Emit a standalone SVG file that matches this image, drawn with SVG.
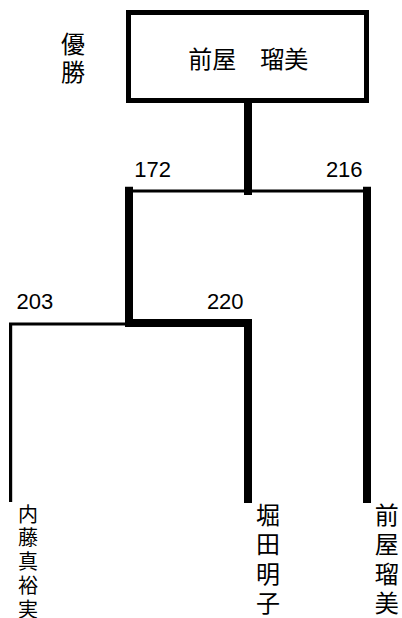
<svg xmlns="http://www.w3.org/2000/svg" width="402" height="618" viewBox="0 0 402 618">
<style>
.bg{fill:#fff}
.box{fill:#fff;stroke:#000;stroke-width:5}
.thick{fill:none;stroke:#000;stroke-width:8;stroke-linejoin:miter;stroke-linecap:butt}
.thin{fill:none;stroke:#000;stroke-width:3.2;stroke-linejoin:miter;stroke-linecap:butt}
.jp{font-family:"Noto Sans CJK JP","Noto Sans CJK SC",sans-serif;fill:#000}
.num{font-family:"Liberation Sans",Arial,sans-serif;font-size:22px;fill:#000}
</style>
<rect class="bg" x="0" y="0" width="402" height="618"/>
<g id="connectors">
  <path class="thick" d="M248 103 V195"/>
  <path class="thin" d="M125 191 H371"/>
  <path class="thick" d="M129 186.7 V323 H248 V503"/>
  <path class="thick" d="M367 186.7 V503"/>
  <path class="thin" d="M125 324 H10.6 V502"/>
</g>
<g id="champion-label">
  <text class="jp" font-size="24" text-anchor="middle"><tspan x="73" y="52.5">優</tspan><tspan x="73" y="81">勝</tspan></text>
</g>
<g id="champion">
  <rect class="box" x="128.5" y="12.5" width="238" height="88"/>
  <text class="jp" font-size="24" x="248.3" y="68" text-anchor="middle">前屋　瑠美</text>
</g>
<g id="scores">
  <text class="num" x="134.3" y="177.3">172</text>
  <text class="num" x="362.6" y="177.3" text-anchor="end">216</text>
  <text class="num" x="16.6" y="309.3">203</text>
  <text class="num" x="243.6" y="309.3" text-anchor="end">220</text>
</g>
<g id="player-naito">
  <text class="jp" font-size="20" text-anchor="middle"><tspan x="28" y="521.6">内</tspan><tspan x="28" y="545.4">藤</tspan><tspan x="28" y="569.1">真</tspan><tspan x="28" y="592.9">裕</tspan><tspan x="28" y="616.6">実</tspan></text>
</g>
<g id="player-horita">
  <text class="jp" font-size="24" text-anchor="middle"><tspan x="268" y="524">堀</tspan><tspan x="268" y="553.4">田</tspan><tspan x="268" y="582.8">明</tspan><tspan x="268" y="612.2">子</tspan></text>
</g>
<g id="player-maeya">
  <text class="jp" font-size="24" text-anchor="middle"><tspan x="386.7" y="524">前</tspan><tspan x="386.7" y="553.4">屋</tspan><tspan x="386.7" y="582.8">瑠</tspan><tspan x="386.7" y="612.2">美</tspan></text>
</g>
</svg>
